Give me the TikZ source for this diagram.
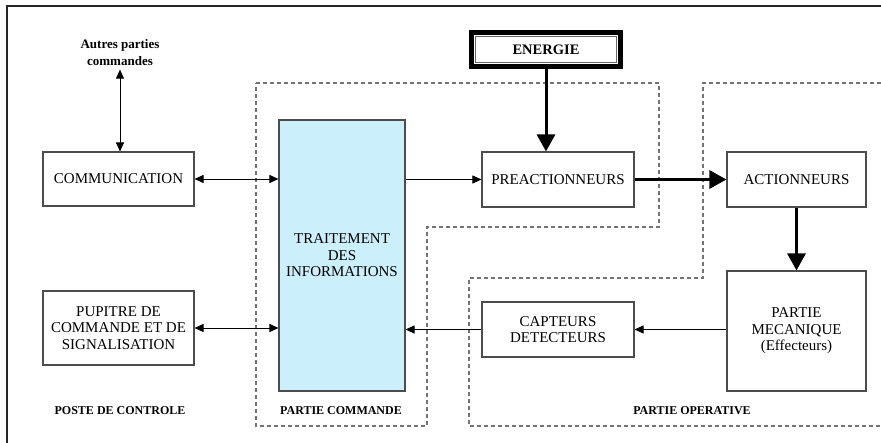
\documentclass[tikz,border=0pt]{standalone}
\usepackage{fontspec}
\setmainfont{Liberation Serif}
\usetikzlibrary{arrows.meta}
\begin{document}
\begin{tikzpicture}[x=1pt,y=-1pt,
  box/.style={draw=black!70,line width=1.1pt,align=center,inner sep=0pt,font=\fontsize{15}{16.5}\selectfont},
  zone/.style={draw=black!55,line width=1.2pt,dash pattern=on 4pt off 3pt},
  lbl/.style={font=\bfseries\fontsize{12}{14}\selectfont},
  thin/.style={line width=0.9pt,-{Triangle[length=9pt,width=8pt]}},
  thick/.style={line width=3pt,-{Triangle[length=17pt,width=18pt]}}]
\useasboundingbox (0,0) rectangle (881,443);
% frame
\draw[line width=1.6pt,black!85] (7,443) -- (7,6) -- (881,6);
% zones
\draw[zone] (256,83) -- (659,83) -- (659,227) -- (427,227) -- (427,426) -- (256,426) -- cycle;
\draw[zone] (881,83) -- (703,83) -- (703,278) -- (469,278) -- (469,426) -- (881,426);
% boxes
\node[box,minimum width=151,minimum height=54] (comm) at (118.5,179) {COMMUNICATION};
\node[box,minimum width=151,minimum height=74] (pupitre) at (118.5,328) {PUPITRE DE\\COMMANDE ET DE\\SIGNALISATION};
\node[box,fill=cyan!20,minimum width=126,minimum height=271] (trait) at (342,255.5) {TRAITEMENT\\DES\\INFORMATIONS};
\node[box,minimum width=152,minimum height=55] (preact) at (558,179.5) {PREACTIONNEURS};
\node[box,minimum width=139,minimum height=55] (act) at (796.5,179.5) {ACTIONNEURS};
\node[box,minimum width=139,minimum height=120] (meca) at (796.5,331) {PARTIE\\MECANIQUE\\(Effecteurs)};
\node[box,minimum width=152,minimum height=55] (capt) at (558,329.5) {CAPTEURS\\DETECTEURS};
\node[draw,line width=5pt,outer sep=0pt,minimum width=149,minimum height=34,font=\bfseries\fontsize{14.5}{16}\selectfont] (energie) at (546,49.5) {ENERGIE};
\draw[black!60,line width=0.8pt] ([shift={(4,4)}]energie.north west) rectangle ([shift={(-4,-4)}]energie.south east);
\node[align=center,font=\bfseries\fontsize{13}{17}\selectfont] (autres) at (120,53) {Autres parties\\commandes};
% labels
\node[lbl] (poste) at (120,411) {POSTE DE CONTROLE};
\node[lbl] (pc) at (341,411) {PARTIE COMMANDE};
\node[lbl] (po) at (692,411) {PARTIE OPERATIVE};
% links
\draw[thin,{Triangle[length=9pt,width=8pt]}-{Triangle[length=9pt,width=8pt]}] (autres.south) -- (comm.north -| autres.south);
\draw[thin,{Triangle[length=9pt,width=8pt]}-{Triangle[length=9pt,width=8pt]}] (comm.east) -- (comm.east -| trait.west);
\draw[thin,{Triangle[length=9pt,width=8pt]}-{Triangle[length=9pt,width=8pt]}] (pupitre.east) -- (pupitre.east -| trait.west);
\draw[thin] (preact.west -| trait.east) -- (preact.west);
\draw[thin] (capt.west) -- (capt.west -| trait.east);
\draw[thin] (capt.east -| meca.west) -- (capt.east);
\draw[thick] (energie.south) -- (energie.south |- preact.north);
\draw[thick] (preact.east) -- (act.west);
\draw[thick] (act.south) -- (meca.north);
\end{tikzpicture}
\end{document}
